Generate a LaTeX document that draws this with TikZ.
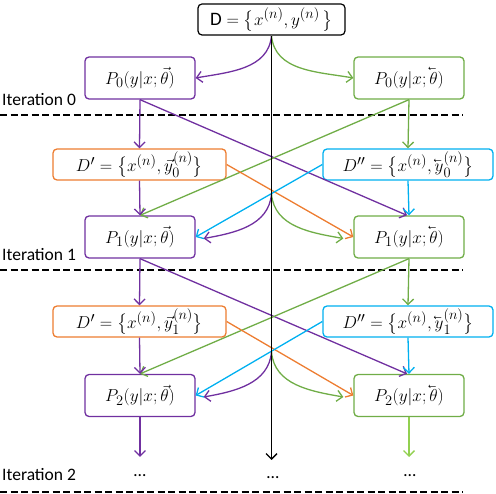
\documentclass[tikz,border=0pt]{standalone}
\usepackage{amsmath}
\usepackage{fontspec}
\usepackage{graphicx}
\usetikzlibrary{arrows.meta}
\newfontfamily\carlito{Carlito}
\newcommand{\lvec}[1]{\reflectbox{$\vec{\reflectbox{$#1$}}$}}
\definecolor{cpur}{HTML}{7030A0}
\definecolor{cgrn}{HTML}{70AD47}
\definecolor{clgr}{HTML}{92D050}
\definecolor{corg}{HTML}{ED7D31}
\definecolor{cblu}{HTML}{00B0F0}
\begin{document}
\begin{tikzpicture}[x=1pt,y=-1pt,font=\fontsize{19}{22}\selectfont,
  box/.style={draw, rounded corners=4pt, line width=1.3pt, fill=white, minimum width=110pt, minimum height=42pt, inner sep=0pt},
  dbox/.style={box, minimum height=31pt},
  lab/.style={font=\carlito\fontsize{17.5}{20}\selectfont, inner sep=0pt},
  arr/.style={line width=1.3pt, -{Straight Barb[length=5.5pt,width=11pt]}},
  sep/.style={line width=1.2pt, dash pattern=on 7pt off 3.5pt}]
\useasboundingbox (0,0) rectangle (496,494);
% nodes
\node[box, draw=black, minimum width=147pt, minimum height=31pt, line width=1.2pt] (D) at (271.5,19.5) {$\text{\carlito D}=\bigl\{x^{(n)},y^{(n)}\,\bigr\}$};
\node[box, draw=cpur] (P0L) at (140,78) {$P_0(y|x;\vec{\theta})$};
\node[box, draw=cgrn] (P0R) at (409,78) {$P_0(y|x;\lvec{\theta})$};
\node[dbox, draw=corg, minimum width=173pt] (DL0) at (139.5,164.5) {$D'=\bigl\{x^{(n)},\vec{y}_0^{(n)}\bigr\}$};
\node[dbox, draw=cblu, minimum width=170pt] (DR0) at (408,164.5) {$D''=\bigl\{x^{(n)},\lvec{y}_0^{(n)}\bigr\}$};
\node[box, draw=cpur] (P1L) at (140,237) {$P_1(y|x;\vec{\theta})$};
\node[box, draw=cgrn] (P1R) at (409,237) {$P_1(y|x;\lvec{\theta})$};
\node[dbox, draw=corg, minimum width=173pt] (DL1) at (139.5,321.5) {$D'=\bigl\{x^{(n)},\vec{y}_1^{(n)}\bigr\}$};
\node[dbox, draw=cblu, minimum width=170pt] (DR1) at (408,321.5) {$D''=\bigl\{x^{(n)},\lvec{y}_1^{(n)}\bigr\}$};
\node[box, draw=cpur] (P2L) at (140,395.5) {$P_2(y|x;\vec{\theta})$};
\node[box, draw=cgrn] (P2R) at (409,395.5) {$P_2(y|x;\lvec{\theta})$};
% labels
\node[lab, anchor=west] (it0) at (2,100) {Iteration 0};
\node[lab, anchor=west] (it1) at (2,255) {Iteration 1};
\node[lab, anchor=west] (it2) at (2,475) {Iteration 2};
\node[lab] (dotL) at (140,476) {\ldots};
\node[lab] (dotM) at (273,478) {\ldots};
\node[lab] (dotR) at (410,476) {\ldots};
% separators
\draw[sep] (0,115) -- (463,115);
\draw[sep] (0,270) -- (463,270);
\draw[sep] (0,492) -- (463,492);
% coordinates
\coordinate (m1) at (271.5,194);
\coordinate (m2) at (271.5,352);
\coordinate (endM) at (271.5,460);
\coordinate (endL) at (140,457);
\coordinate (endR) at (409,457);
% top curves
\draw[arr, cpur] (D.south) to[out=-95,in=10] (P0L.east);
\draw[arr, cgrn] (D.south) to[out=-85,in=170] (P0R.west);
% iteration 0 -> 1
\draw[arr, cpur] (P0L.south) -- (DL0.north);
\draw[arr, cpur] (P0L.south) -- ([xshift=-2pt]P1R.north);
\draw[arr, cgrn] (P0R.south) -- (DR0.north);
\draw[arr, cgrn] (P0R.south) -- (P1L.north);
\draw[arr, cpur] (DL0.south) -- (P1L.north);
\draw[arr, cblu] (DR0.south) -- (P1R.north);
\draw[arr, corg] (DL0.east) -- (P1R.west);
\draw[arr, cblu] (DR0.west) -- (P1L.east);
\draw[arr, cpur] (m1) to[out=-95,in=10] ([xshift=8pt,yshift=-1.5pt]P1L.east);
\draw[arr, cgrn] (m1) to[out=-85,in=170] ([xshift=-10pt,yshift=-1.5pt]P1R.west);
% iteration 1 -> 2
\draw[arr, cpur] (P1L.south) -- (DL1.north);
\draw[arr, cpur] (P1L.south) -- ([xshift=-2pt]P2R.north);
\draw[arr, cgrn] (P1R.south) -- (DR1.north);
\draw[arr, cgrn] (P1R.south) -- (P2L.north);
\draw[arr, cpur] (DL1.south) -- (P2L.north);
\draw[arr, cblu] (DR1.south) -- (P2R.north);
\draw[arr, corg] (DL1.east) -- (P2R.west);
\draw[arr, cblu] (DR1.west) -- (P2L.east);
\draw[arr, cpur] (m2) to[out=-95,in=10] ([xshift=8pt,yshift=-1.5pt]P2L.east);
\draw[arr, cgrn] (m2) to[out=-85,in=170] ([xshift=-10pt,yshift=-1.5pt]P2R.west);
% bottom
\draw[arr, cpur] (P2L.south) -- (endL);
\draw[arr, clgr] (P2R.south) -- (endR);
\draw[arr, black] (D.south) -- (endM);
\end{tikzpicture}
\end{document}
